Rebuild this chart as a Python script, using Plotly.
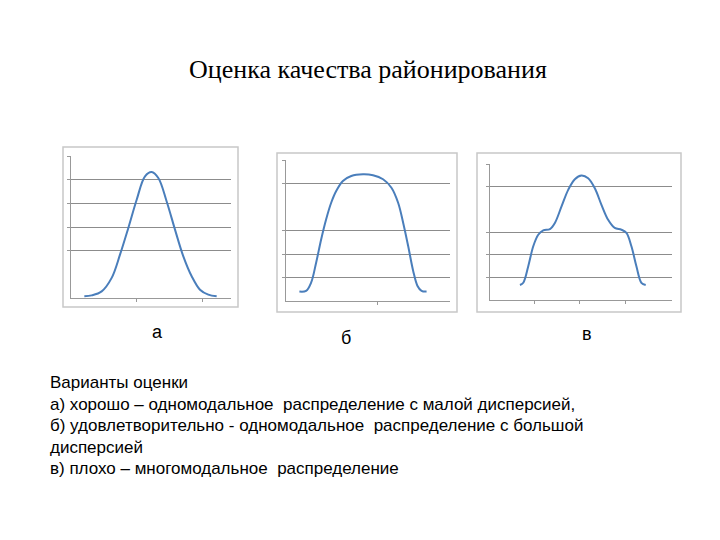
import plotly.graph_objects as go

# --- data (y in grid units 0..6) ---
a_x = [40, 62, 92, 122, 147, 172, 197, 222, 242, 262, 287, 312, 337, 362, 387, 412, 437]
a_y = [0.07, 0.11, 0.28, 0.85, 1.83, 2.96, 4.15, 5.14, 5.32, 5.07, 4.08, 2.89, 1.76, 0.92, 0.35, 0.14, 0.07]

b_x = [40, 60, 75, 90, 105, 120, 135, 150, 170, 195, 230, 260, 290, 315, 335, 350, 365, 380, 393, 405, 420]
b_y = [0.40, 0.43, 0.78, 1.63, 2.62, 3.48, 4.18, 4.68, 5.11, 5.32, 5.39, 5.35, 5.18, 4.82, 4.18, 3.33, 2.34, 1.28, 0.64, 0.43, 0.40]

c_x = [90, 100, 115, 130, 145, 160, 180, 195, 215, 235, 255, 275, 295, 315, 335, 355, 375, 395, 410, 425, 440, 455, 468]
c_y = [0.66, 0.76, 1.49, 2.37, 2.88, 3.07, 3.13, 3.40, 4.13, 4.86, 5.33, 5.49, 5.37, 4.93, 4.20, 3.54, 3.18, 3.10, 2.96, 2.37, 1.49, 0.76, 0.66]

panels = [
    # x, y, x range, grid values, x ticks, plot px box, frame px box
    (a_x, a_y, 480, [2, 3, 4, 5, 6], [197, 394], (63, 223, 148, 290), (55, 230, 139, 299)),
    (b_x, b_y, 490, [1, 2, 3, 5, 6], [272], (278, 442, 152, 293), (269, 449, 145, 304)),
    (c_x, c_y, 547, [1, 2, 3, 5, 6], [135, 270, 407], (482, 664, 156, 292), (469, 673, 145, 304)),
]

W, H = 720, 540
fig = go.Figure()
shapes = []
for i, (xs, ys, xr, grid, xt, pbox, fbox) in enumerate(panels, start=1):
    sfx = "" if i == 1 else str(i)
    fig.add_trace(go.Scatter(x=xs, y=ys, mode="lines", line=dict(color="#4a7ebb", width=2, shape="spline"),
                             xaxis="x" + sfx, yaxis="y" + sfx, showlegend=False, hoverinfo="skip"))
    x0, x1, y0, y1 = pbox
    fig.update_layout({
        "xaxis" + sfx: dict(domain=[x0 / W, x1 / W], range=[0, xr], showgrid=False, zeroline=False,
                            showline=True, linecolor="#999", linewidth=1, tickvals=xt, ticks="outside",
                            ticklen=3, tickcolor="#999", showticklabels=False, anchor="y" + sfx),
        "yaxis" + sfx: dict(domain=[1 - y1 / H, 1 - y0 / H], range=[0, 6], tickvals=grid, showgrid=True,
                            gridcolor="#8c8c8c", gridwidth=1, zeroline=False, showline=True, linecolor="#999",
                            ticks="outside", ticklen=3, tickcolor="#999", showticklabels=False, anchor="x" + sfx),
    })
    fx0, fx1, fy0, fy1 = fbox
    shapes.append(dict(type="rect", xref="paper", yref="paper", x0=fx0 / W, x1=fx1 / W,
                       y0=1 - fy1 / H, y1=1 - fy0 / H, line=dict(color="#c8c8c8", width=1.5)))

ann = [dict(text="Оценка качества районирования", x=360 / W, y=1 - 45 / H, xref="paper", yref="paper",
            showarrow=False, font=dict(family="Liberation Serif", size=26, color="black"))]
for t, px, py in [("а", 142, 324), ("б", 338, 330), ("в", 586, 326)]:
    ann.append(dict(text=t, x=px / W, y=1 - py / H, xref="paper", yref="paper", showarrow=False,
                    font=dict(family="Liberation Sans", size=18, color="black")))

body = [
    "Варианты оценки",
    "а) хорошо – одномодальное  распределение с малой дисперсией,",
    "б) удовлетворительно - одномодальное  распределение с большой",
    "дисперсией",
    "в) плохо – многомодальное  распределение",
]
for k, line in enumerate(body):
    ann.append(dict(text=line, x=40 / W, y=1 - (386 + k * 21.5) / H, xref="paper", yref="paper",
                    xanchor="left", showarrow=False, font=dict(family="Liberation Sans", size=17, color="black")))

fig.update_layout(width=W, height=H, margin=dict(l=0, r=0, t=0, b=0), plot_bgcolor="white",
                  paper_bgcolor="white", shapes=shapes, annotations=ann)
fig.write_html("out.html")
